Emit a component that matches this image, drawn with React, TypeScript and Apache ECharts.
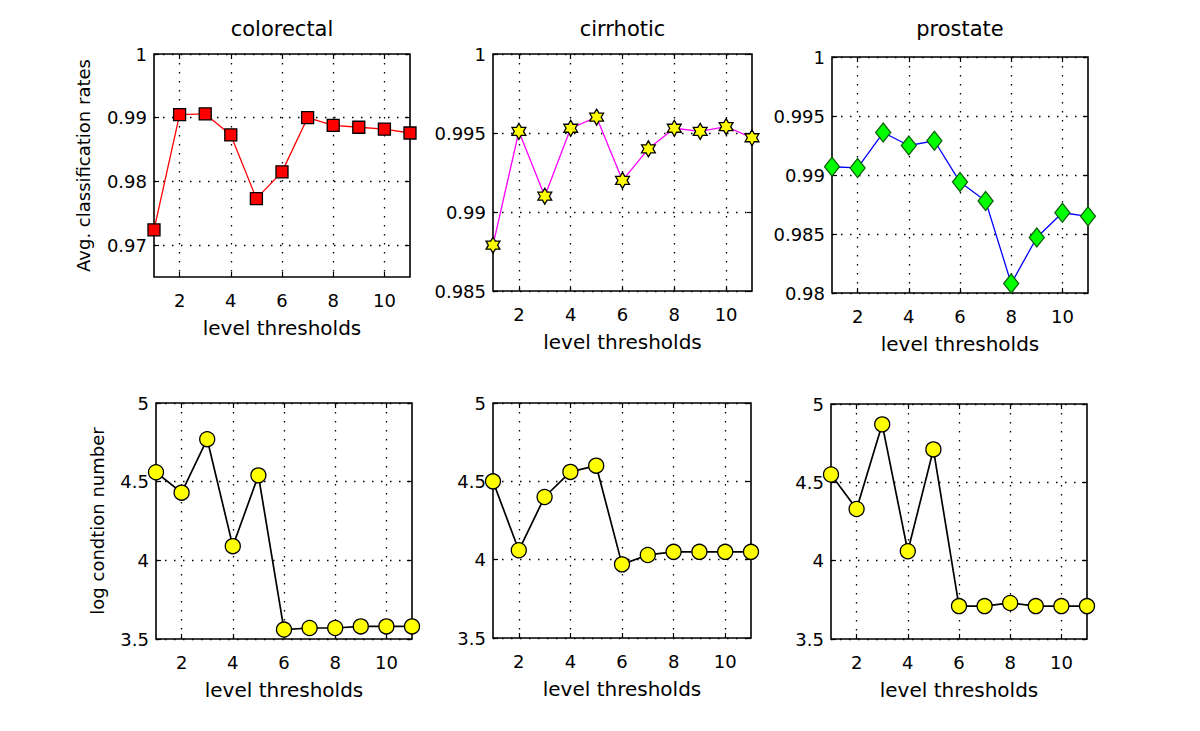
import React, { useEffect, useRef } from "react";
import * as echarts from "echarts";

const levels = [1, 2, 3, 4, 5, 6, 7, 8, 9, 10, 11];
const xTicks = [2, 4, 6, 8, 10];
const titles = ["colorectal", "cirrhotic", "prostate"];

const colorectalRate = [0.9724, 0.9905, 0.9906, 0.9873, 0.9773, 0.9815, 0.99, 0.9888, 0.9885, 0.9882, 0.9876];
const cirrhoticRate = [0.9879, 0.9951, 0.991, 0.9953, 0.996, 0.992, 0.994, 0.9953, 0.9951, 0.9954, 0.9947];
const prostateRate = [0.9907, 0.9906, 0.9936, 0.9925, 0.9929, 0.9894, 0.9878, 0.9808, 0.9847, 0.9868, 0.9865];

const colorectalCond = [4.56, 4.43, 4.77, 4.09, 4.54, 3.56, 3.57, 3.57, 3.58, 3.58, 3.58];
const cirrhoticCond = [4.5, 4.06, 4.4, 4.56, 4.6, 3.97, 4.03, 4.05, 4.05, 4.05, 4.05];
const prostateCond = [4.55, 4.33, 4.87, 4.06, 4.71, 3.71, 3.71, 3.73, 3.71, 3.71, 3.71];

const rateTicks1 = [0.97, 0.98, 0.99, 1];
const rateTicks2 = [0.985, 0.99, 0.995, 1];
const rateTicks3 = [0.98, 0.985, 0.99, 0.995, 1];
const condTicks = [3.5, 4, 4.5, 5];

const FONT = "DejaVu Sans";

function starPath(n: number, R: number, r: number) {
  const pts: string[] = [];
  for (let i = 0; i < 2 * n; i++) {
    const a = (-90 + (i * 180) / n) * (Math.PI / 180);
    const rad = i % 2 === 0 ? R : r;
    pts.push(`${(R + rad * Math.cos(a)).toFixed(3)} ${(R + rad * Math.sin(a)).toFixed(3)}`);
  }
  return "path://M" + pts.join(" L") + " Z";
}
const hexagram = starPath(6, 10, 10 / Math.sqrt(3));

const panels = [
  { grid: { left: 154, top: 54, width: 256, height: 223 }, ymin: 0.965, ymax: 1, yticks: rateTicks1, data: colorectalRate,
    line: "#ff0000", lw: 1.3, symbol: "rect", size: 12, fill: "#ff0000", edge: "#000000", ylabel: "Avg. classification rates", ygap: 62 },
  { grid: { left: 493, top: 54, width: 259, height: 237 }, ymin: 0.985, ymax: 1, yticks: rateTicks2, data: cirrhoticRate,
    line: "#ff00ff", lw: 1.3, symbol: hexagram, size: 16, fill: "#ffff00", edge: "#000000", ylabel: "", ygap: 0 },
  { grid: { left: 832, top: 57, width: 256, height: 236 }, ymin: 0.98, ymax: 1, yticks: rateTicks3, data: prostateRate,
    line: "#0000ff", lw: 1.3, symbol: "diamond", size: [15, 19], fill: "#00ff00", edge: "#0b5e0b", ylabel: "", ygap: 0 },
  { grid: { left: 156, top: 403, width: 256, height: 236 }, ymin: 3.5, ymax: 5, yticks: condTicks, data: colorectalCond,
    line: "#000000", lw: 1.7, symbol: "circle", size: 15, fill: "#ffff00", edge: "#000000", ylabel: "log condtion number", ygap: 50 },
  { grid: { left: 493, top: 403, width: 258, height: 235 }, ymin: 3.5, ymax: 5, yticks: condTicks, data: cirrhoticCond,
    line: "#000000", lw: 1.7, symbol: "circle", size: 15, fill: "#ffff00", edge: "#000000", ylabel: "", ygap: 0 },
  { grid: { left: 831, top: 404, width: 256, height: 235 }, ymin: 3.5, ymax: 5, yticks: condTicks, data: prostateCond,
    line: "#000000", lw: 1.7, symbol: "circle", size: 15, fill: "#ffff00", edge: "#000000", ylabel: "", ygap: 0 },
];

const fmt = (v: number) => String(parseFloat(Number(v).toFixed(4)));

export default function App() {
  const ref = useRef<HTMLDivElement>(null);
  useEffect(() => {
    if (!ref.current) return;
    const chart = echarts.init(ref.current, null, { renderer: "svg" });
    const grids: any[] = [];
    const xAxes: any[] = [];
    const yAxes: any[] = [];
    const series: any[] = [];
    const dotted = { color: "#000", width: 1.3, type: [1.5, 7.5] };
    panels.forEach((p, i) => {
      grids.push({ ...p.grid, show: true, borderColor: "#000", borderWidth: 1.6, backgroundColor: "#fff" });
      const tick = { show: true, inside: true, length: 5, customValues: xTicks, lineStyle: { color: "#000", width: 1.2 } };
      xAxes.push({
        type: "value", gridIndex: i, min: 1, max: 11, position: "bottom",
        axisLine: { show: false }, axisTick: tick,
        axisLabel: { customValues: xTicks, margin: 14, color: "#000", fontFamily: FONT, fontSize: 18, formatter: fmt },
        splitLine: { show: true, lineStyle: dotted },
        name: "level thresholds", nameLocation: "middle", nameGap: 41,
        nameTextStyle: { color: "#000", fontFamily: FONT, fontSize: 20 },
      });
      xAxes.push({
        type: "value", gridIndex: i, min: 1, max: 11, position: "top",
        axisLine: { show: false }, axisTick: tick, axisLabel: { show: false }, splitLine: { show: false },
      });
      const ytick = { show: true, inside: true, length: 5, customValues: p.yticks, lineStyle: { color: "#000", width: 1.2 } };
      yAxes.push({
        type: "value", gridIndex: i, min: p.ymin, max: p.ymax, position: "left",
        axisLine: { show: false }, axisTick: ytick,
        axisLabel: { customValues: p.yticks, margin: 7, color: "#000", fontFamily: FONT, fontSize: 18, formatter: fmt },
        splitLine: { show: true, lineStyle: dotted },
        name: p.ylabel, nameLocation: "middle", nameRotate: 90, nameGap: p.ygap,
        nameTextStyle: { color: "#000", fontFamily: FONT, fontSize: 18 },
      });
      yAxes.push({
        type: "value", gridIndex: i, min: p.ymin, max: p.ymax, position: "right",
        axisLine: { show: false }, axisTick: ytick, axisLabel: { show: false }, splitLine: { show: false },
      });
      series.push({
        type: "line", xAxisIndex: 2 * i, yAxisIndex: 2 * i,
        data: levels.map((x, j) => [x, p.data[j]]),
        symbol: p.symbol, symbolSize: p.size, symbolKeepAspect: true,
        itemStyle: { color: p.fill, borderColor: p.edge, borderWidth: 1.3 },
        lineStyle: { color: p.line, width: p.lw },
        clip: false, z: 3,
      });
    });
    const graphic = titles.map((t, i) => {
      const g = panels[i].grid;
      return {
        type: "text", x: g.left + g.width / 2, y: 29,
        style: { text: t, font: `21px "${FONT}"`, fill: "#000", align: "center", verticalAlign: "middle" },
      };
    });
    chart.setOption({
      animation: false,
      backgroundColor: "#fff",
      grid: grids, xAxis: xAxes, yAxis: yAxes, series, graphic,
    });
    return () => chart.dispose();
  }, []);
  return <div ref={ref} style={{ position: "absolute", left: 0, top: 0, width: 1200, height: 731 }} />;
}
